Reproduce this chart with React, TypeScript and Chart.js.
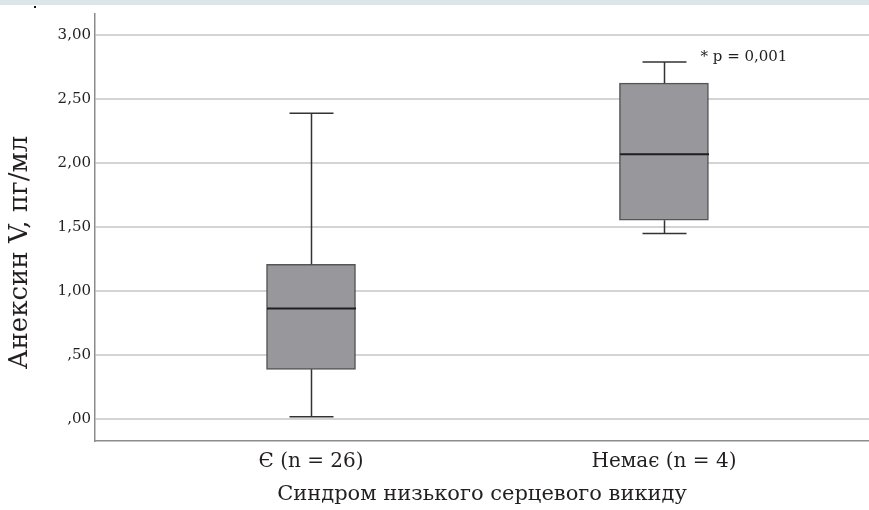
import React, { useEffect, useRef } from 'react';
import { Chart, registerables } from 'chart.js';

Chart.register(...registerables);

const categories = ['Є (n = 26)', 'Немає (n = 4)'];
const categoryPositions = [1, 2];
const whiskerMin = [0.02, 1.45];
const quartile1 = [0.39, 1.555];
const medians = [0.865, 2.07];
const quartile3 = [1.21, 2.625];
const whiskerMax = [2.39, 2.79];
const yTickValues = [0, 0.5, 1, 1.5, 2, 2.5, 3];
const yTickLabels = [',00', ',50', '1,00', '1,50', '2,00', '2,50', '3,00'];
const annotationText = '* p = 0,001';
const annotationIndex = 1;
const yTitle = 'Анексин V, пг/мл';
const xTitle = 'Синдром низького серцевого викиду';

const FONT = '"DejaVu Serif", "Liberation Serif", serif';
const TEXT = '#231f20';

const boxPlugin = {
  id: 'boxWhiskers',
  afterDatasetsDraw(chart: any) {
    const { ctx } = chart;
    const x = chart.scales.x;
    const y = chart.scales.y;
    const meta = chart.getDatasetMeta(0);
    ctx.save();
    categoryPositions.forEach((pos, i) => {
      const cx = Math.round(x.getPixelForValue(pos)) + 0.5;
      const yMin = y.getPixelForValue(whiskerMin[i]);
      const yQ1 = y.getPixelForValue(quartile1[i]);
      const yMed = y.getPixelForValue(medians[i]);
      const yQ3 = y.getPixelForValue(quartile3[i]);
      const yMax = y.getPixelForValue(whiskerMax[i]);
      const bar = meta.data[i];
      const half = bar ? bar.width / 2 : 44;
      const cap = 22;
      ctx.strokeStyle = '#333333';
      ctx.lineWidth = 1.5;
      ctx.beginPath();
      ctx.moveTo(cx, yQ3);
      ctx.lineTo(cx, yMax);
      ctx.moveTo(cx - cap, yMax);
      ctx.lineTo(cx + cap, yMax);
      ctx.moveTo(cx, yQ1);
      ctx.lineTo(cx, yMin);
      ctx.moveTo(cx - cap, yMin);
      ctx.lineTo(cx + cap, yMin);
      ctx.stroke();
      ctx.strokeStyle = '#1e1e1e';
      ctx.lineWidth = 2;
      ctx.beginPath();
      ctx.moveTo(cx - half, yMed);
      ctx.lineTo(cx + half, yMed);
      ctx.stroke();
      if (i === annotationIndex) {
        ctx.font = '15px ' + FONT;
        ctx.fillStyle = TEXT;
        ctx.textAlign = 'left';
        ctx.textBaseline = 'middle';
        ctx.fillText(annotationText, cx + cap + 14, yMax - 5);
      }
    });
    // y-axis title, placed slightly below the plot centre as in the reference
    const area = chart.chartArea;
    ctx.translate(20, (area.top + area.bottom) / 2 + 25);
    ctx.rotate(-Math.PI / 2);
    ctx.font = '26px ' + FONT;
    ctx.fillStyle = TEXT;
    ctx.textAlign = 'center';
    ctx.textBaseline = 'middle';
    ctx.fillText(yTitle, 0, 0);
    ctx.restore();
  },
};

export default function App() {
  const ref = useRef<HTMLCanvasElement | null>(null);

  useEffect(() => {
    document.body.style.margin = '0';
    const canvas = ref.current;
    if (!canvas) return;
    const chart = new Chart(canvas, {
      type: 'bar',
      data: {
        datasets: [
          {
            data: categoryPositions.map((p, i) => ({ x: p, y: [quartile1[i], quartile3[i]] })) as any,
            backgroundColor: '#98989c',
            borderColor: '#555558',
            borderWidth: 1.5,
            borderSkipped: false,
            barThickness: 89,
          },
        ],
      },
      options: {
        animation: false,
        responsive: false,
        layout: { padding: { top: 14, left: 0, right: 0, bottom: 0 } },
        plugins: { legend: { display: false }, tooltip: { enabled: false } },
        scales: {
          x: {
            type: 'linear',
            offset: false,
            min: 0.388,
            max: 2.581,
            afterBuildTicks: (s: any) => {
              s.ticks = categoryPositions.map((v) => ({ value: v }));
            },
            afterFit: (s: any) => {
              s.height = 69;
            },
            ticks: {
              callback: (_v: any, i: number) => categories[i],
              font: { family: FONT, size: 20 },
              color: TEXT,
              padding: 9,
              autoSkip: false,
              maxRotation: 0,
            },
            grid: { display: false, drawTicks: false, offset: false },
            border: { color: '#8c8c8c', width: 1.5 },
            title: {
              display: true,
              text: xTitle,
              font: { family: FONT, size: 21 },
              color: TEXT,
              padding: { top: 4, bottom: 3 },
            },
          },
          y: {
            min: -0.17,
            max: 3.165,
            afterBuildTicks: (s: any) => {
              s.ticks = yTickValues.map((v) => ({ value: v }));
            },
            afterFit: (s: any) => {
              s.width = 95;
            },
            ticks: {
              callback: (_v: any, i: number) => yTickLabels[i],
              font: { family: FONT, size: 15 },
              color: TEXT,
              padding: 4,
            },
            grid: { color: '#d4d4d4', lineWidth: 2, drawTicks: false },
            border: { color: '#8c8c8c', width: 1.5 },
            title: { display: false },
          },
        },
      },
      plugins: [boxPlugin],
    } as any);
    return () => chart.destroy();
  }, []);

  return (
    <div style={{ position: 'relative', width: 869, height: 510, background: '#ffffff' }}>
      <div style={{ position: 'absolute', left: 0, top: 0, width: 869, height: 5, background: '#dce5ea' }} />
      <div style={{ position: 'absolute', left: 34, top: 6, width: 2, height: 2, background: '#111' }} />
      <canvas ref={ref} width={869} height={510} style={{ display: 'block' }} />
    </div>
  );
}
